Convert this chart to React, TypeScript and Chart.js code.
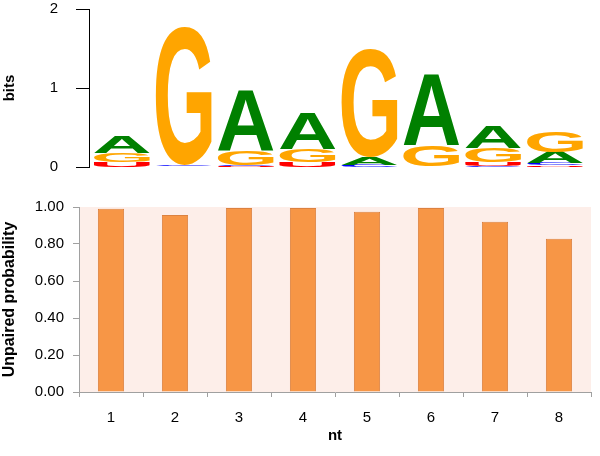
import React, { useEffect, useRef } from 'react';
import { Chart, registerables } from 'chart.js';

Chart.register(...registerables);

// ---- data ----
const positions = ['1', '2', '3', '4', '5', '6', '7', '8'];
// information content (bits) per nucleotide at each position
const bitsA = [0.21, 0.005, 0.76, 0.46, 0.09, 0.89, 0.28, 0.14];
const bitsC = [0.005, 0.02, 0.015, 0.005, 0.025, 0.005, 0.01, 0.025];
const bitsG = [0.11, 1.75, 0.19, 0.16, 1.37, 0.27, 0.18, 0.26];
const bitsU = [0.06, 0.003, 0.01, 0.06, 0.003, 0.003, 0.05, 0.02];
const logoTicks = [0, 1, 2];
// unpaired probability per nucleotide
const unpaired = [0.99, 0.957, 0.995, 0.995, 0.975, 0.995, 0.92, 0.828];
const probTicks = [0, 0.2, 0.4, 0.6, 0.8, 1.0];

const FONT = '"Liberation Sans", Arial, Helvetica, sans-serif';
const letterColors: Record<string, string> = {
  A: '#008000',
  C: '#0000FF',
  G: '#FFA500',
  U: '#FF0000',
};

function drawLetter(
  ctx: CanvasRenderingContext2D,
  letter: string,
  x0: number,
  y0: number,
  w: number,
  h: number,
  color: string
) {
  if (h <= 0 || w <= 0) return;
  ctx.save();
  ctx.font = `bold 200px ${FONT}`;
  ctx.textBaseline = 'alphabetic';
  ctx.textAlign = 'left';
  const m = ctx.measureText(letter);
  const gw = m.actualBoundingBoxLeft + m.actualBoundingBoxRight;
  const gh = m.actualBoundingBoxAscent + m.actualBoundingBoxDescent;
  ctx.translate(x0, y0);
  ctx.scale(w / gw, h / gh);
  ctx.fillStyle = color;
  ctx.fillText(letter, m.actualBoundingBoxLeft, m.actualBoundingBoxAscent);
  ctx.restore();
}

const logoPlugin = {
  id: 'seqLogo',
  afterDatasetsDraw(chart: any) {
    const { ctx, scales } = chart;
    const x = scales.x;
    const y = scales.y;
    const series: [string, number[]][] = [
      ['A', bitsA],
      ['C', bitsC],
      ['G', bitsG],
      ['U', bitsU],
    ];
    positions.forEach((_, i) => {
      const stack = series
        .map(([l, arr]) => ({ l, v: arr[i] }))
        .sort((a, b) => a.v - b.v);
      const xl = x.getPixelForValue(i + 1 - 0.452);
      const xr = x.getPixelForValue(i + 1 + 0.452);
      let base = 0;
      stack.forEach(({ l, v }) => {
        const yb = y.getPixelForValue(base);
        const yt = y.getPixelForValue(base + v);
        base += v;
        drawLetter(ctx, l, xl, yt, xr - xl, yb - yt, letterColors[l]);
      });
    });
  },
};

const bgPlugin = {
  id: 'plotBg',
  beforeDraw(chart: any) {
    const { ctx, chartArea: a } = chart;
    ctx.save();
    ctx.fillStyle = '#FDEEE9';
    ctx.fillRect(a.left, a.top, a.right - a.left, a.bottom - a.top);
    ctx.restore();
  },
};

export default function App() {
  const topRef = useRef<HTMLCanvasElement>(null);
  const botRef = useRef<HTMLCanvasElement>(null);

  useEffect(() => {
    const top = new Chart(topRef.current as HTMLCanvasElement, {
      type: 'scatter',
      data: { datasets: [] },
      plugins: [logoPlugin],
      options: {
        animation: false,
        responsive: false,
        layout: { padding: { top: 9, bottom: 23, right: 14, left: 0 } },
        plugins: { legend: { display: false }, tooltip: { enabled: false } },
        scales: {
          x: { type: 'linear', display: false, min: 0.468, max: 8.5 },
          y: {
            type: 'linear',
            min: 0,
            max: 2,
            afterBuildTicks: (s: any) => {
              s.ticks = logoTicks.map((v) => ({ value: v }));
            },
            afterFit: (s: any) => {
              s.width = 89;
              s.paddingTop = 0;
              s.paddingBottom = 0;
            },
            ticks: {
              color: '#000',
              font: { family: FONT, size: 15 },
              padding: 18,
              callback: (v: any) => String(v),
            },
            grid: { drawOnChartArea: false, tickLength: 13, color: '#000' },
            border: { color: '#000', width: 1 },
            title: {
              display: true,
              text: 'bits',
              color: '#000',
              font: { family: FONT, size: 15, weight: 'bold' },
              padding: { top: 1, bottom: 0 },
            },
          },
        },
      },
    } as any);

    const bot = new Chart(botRef.current as HTMLCanvasElement, {
      type: 'bar',
      data: {
        labels: positions,
        datasets: [
          {
            data: unpaired,
            backgroundColor: '#F79646',
            borderColor: '#DC8240',
            borderWidth: 1,
            categoryPercentage: 1,
            barPercentage: 0.41,
          },
        ],
      },
      plugins: [bgPlugin],
      options: {
        animation: false,
        responsive: false,
        layout: { padding: { top: 17, right: 9, left: 0, bottom: 0 } },
        plugins: { legend: { display: false }, tooltip: { enabled: false } },
        scales: {
          x: {
            afterFit: (s: any) => {
              s.height = 64;
              s.paddingLeft = 0;
              s.paddingRight = 0;
            },
            ticks: {
              color: '#000',
              font: { family: FONT, size: 15 },
              padding: 12,
            },
            grid: { drawOnChartArea: false, tickLength: 5, color: '#A0A0A0', offset: true },
            border: { color: '#A0A0A0', width: 1 },
            title: {
              display: true,
              text: 'nt',
              color: '#000',
              font: { family: FONT, size: 15, weight: 'bold' },
              padding: { top: 0, bottom: 11 },
            },
          },
          y: {
            min: 0,
            max: 1,
            afterBuildTicks: (s: any) => {
              s.ticks = probTicks.map((v) => ({ value: v }));
            },
            afterFit: (s: any) => {
              s.width = 79;
              s.paddingTop = 0;
              s.paddingBottom = 0;
            },
            ticks: {
              color: '#000',
              font: { family: FONT, size: 15 },
              padding: 9,
              callback: (v: any) => Number(v).toFixed(2),
            },
            grid: { drawOnChartArea: false, tickLength: 6, color: '#A0A0A0' },
            border: { color: '#A0A0A0', width: 1 },
            title: {
              display: true,
              text: 'Unpaired probability',
              color: '#000',
              font: { family: FONT, size: 16, weight: 'bold' },
              padding: { top: 0, bottom: 0 },
            },
          },
        },
      },
    } as any);

    return () => {
      top.destroy();
      bot.destroy();
    };
  }, []);

  return (
    <div
      style={{
        position: 'fixed',
        left: 0,
        top: 0,
        width: 600,
        height: 456,
        background: '#fff',
      }}
    >
      <canvas
        ref={topRef}
        width={600}
        height={190}
        style={{ position: 'absolute', left: 0, top: 0, width: 600, height: 190 }}
      />
      <canvas
        ref={botRef}
        width={600}
        height={266}
        style={{ position: 'absolute', left: 0, top: 190, width: 600, height: 266 }}
      />
    </div>
  );
}
